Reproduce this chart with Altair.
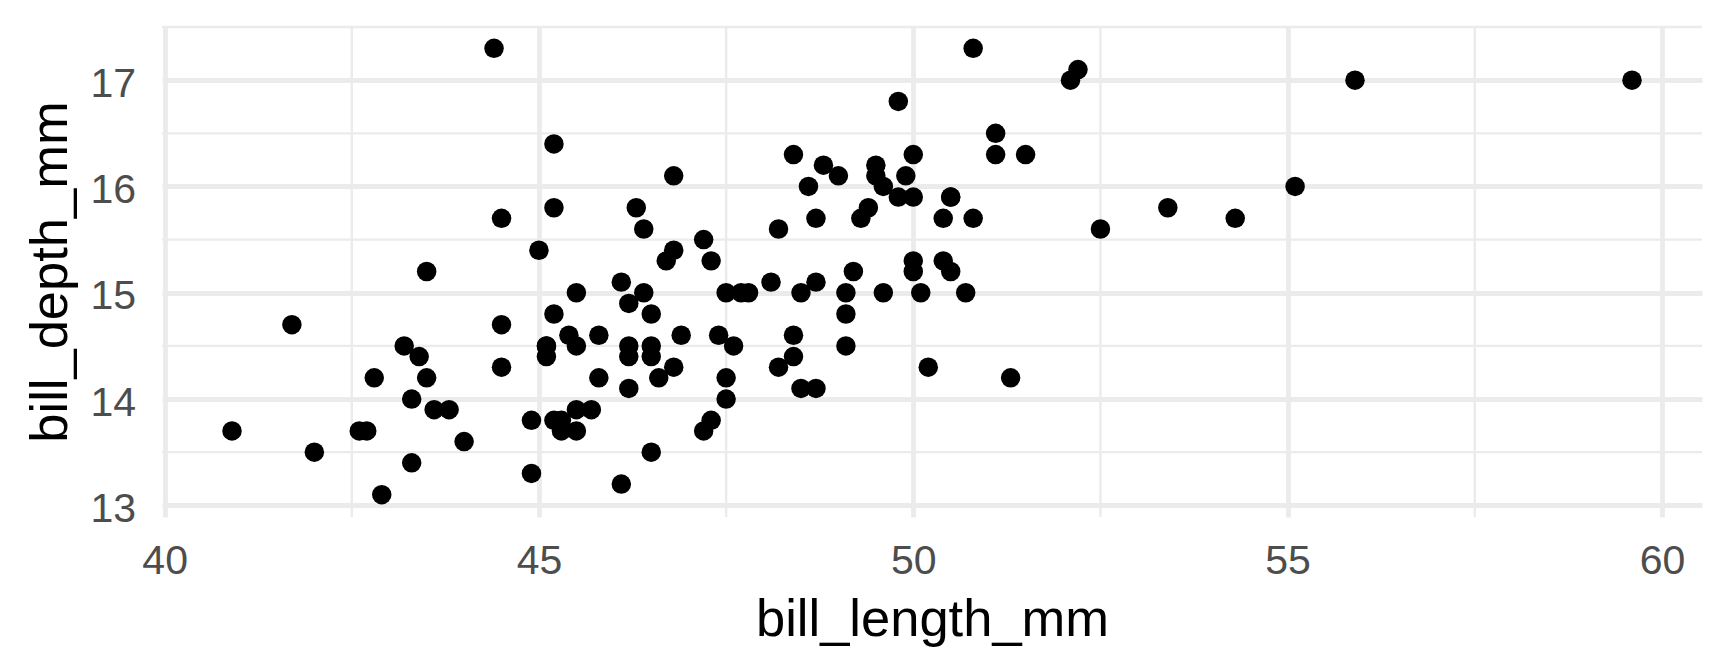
import altair as alt
import pandas as pd

bill_length_mm = [
    46.1, 50.0, 48.7, 50.0, 47.6, 46.5, 45.4, 46.7, 43.3, 46.8, 40.9, 49.0, 45.5, 48.4, 45.8, 49.3,
    42.0, 49.2, 46.2, 48.7, 50.2, 45.1, 46.5, 46.3, 42.9, 46.1, 44.5, 47.8, 48.2, 50.0, 47.3, 42.8,
    45.1, 59.6, 49.1, 48.4, 42.6, 44.4, 44.0, 48.7, 42.7, 49.6, 45.3, 49.6, 50.5, 43.6, 45.5, 50.5,
    44.9, 45.2, 46.6, 48.5, 45.1, 50.1, 46.5, 45.0, 43.8, 45.5, 43.2, 50.4, 45.3, 46.2, 45.7, 54.3,
    45.8, 49.8, 46.2, 49.5, 43.5, 50.7, 47.7, 46.4, 48.2, 46.5, 46.4, 48.6, 47.5, 51.1, 45.2, 45.2,
    49.1, 52.5, 47.4, 50.0, 44.9, 50.8, 43.4, 51.3, 47.5, 52.1, 47.5, 52.2, 45.5, 49.5, 44.5, 50.8,
    49.4, 46.9, 48.4, 51.1, 48.5, 55.9, 47.2, 49.1, 47.3, 46.8, 41.7, 53.4, 43.3, 48.1, 50.5, 49.8,
    43.5, 51.5, 46.2, 55.1, 44.5, 48.8, 47.2, 46.8, 50.4, 45.2, 49.9,
]
bill_depth_mm = [
    13.2, 16.3, 14.1, 15.2, 14.5, 13.5, 14.6, 15.3, 13.4, 15.4, 13.7, 16.1, 13.7, 14.6, 14.6, 15.7,
    13.5, 15.2, 14.5, 15.1, 14.3, 14.5, 14.5, 15.8, 13.1, 15.1, 14.3, 15.0, 14.3, 15.3, 15.3, 14.2,
    14.5, 17.0, 14.8, 16.3, 13.7, 17.3, 13.6, 15.7, 13.7, 16.0, 13.7, 15.0, 15.9, 13.9, 13.9, 15.9,
    13.3, 15.8, 14.2, 14.1, 14.4, 15.0, 14.4, 15.4, 13.9, 15.0, 14.5, 15.3, 13.8, 14.9, 13.9, 15.7,
    14.2, 16.8, 14.4, 16.2, 14.2, 15.0, 15.0, 15.6, 15.6, 14.8, 15.0, 16.0, 14.2, 16.3, 13.8, 16.4,
    14.5, 15.6, 14.6, 15.9, 13.8, 17.3, 14.4, 14.2, 14.0, 17.0, 15.0, 17.1, 14.5, 16.1, 14.7, 15.7,
    15.8, 14.6, 14.4, 16.5, 15.0, 17.0, 15.5, 15.0, 13.8, 16.1, 14.7, 15.8, 14.0, 15.1, 15.2, 15.9,
    15.2, 16.3, 14.1, 16.0, 15.7, 16.2, 13.7, 14.3, 15.7, 14.8, 16.1,
]

x_major = [40, 45, 50, 55, 60]
x_minor = [42.5, 47.5, 52.5, 57.5]
y_major = [13, 14, 15, 16, 17]
y_minor = [13.5, 14.5, 15.5, 16.5, 17.5]

df = pd.DataFrame({"bill_length_mm": bill_length_mm, "bill_depth_mm": bill_depth_mm})
dfx = pd.DataFrame({"bill_length_mm": x_minor})
dfy = pd.DataFrame({"bill_depth_mm": y_minor})

GRID = "#EBEBEB"
FONT = "Liberation Sans"

xscale = alt.Scale(domain=[39.965, 60.535], nice=False, zero=False)
yscale = alt.Scale(domain=[12.89, 17.51], nice=False, zero=False)

x_axis = alt.Axis(
    values=x_major, title="bill_length_mm", grid=True, gridColor=GRID, gridWidth=4.8,
    domain=False, ticks=False, tickSize=0, labelPadding=24, labelFontSize=41,
    labelColor="#4D4D4D", labelFont=FONT, titleFont=FONT, titleFontSize=52.5,
    titleFontWeight="normal", titleColor="black", titleBaseline="alphabetic",
    titleY=118, labelFlush=False, labelOverlap=False,
)
y_axis = alt.Axis(
    values=y_major, title="bill_depth_mm", grid=True, gridColor=GRID, gridWidth=4.8,
    domain=False, ticks=False, tickSize=0, labelPadding=26.5, labelFontSize=41,
    labelColor="#4D4D4D", labelFont=FONT, titleFont=FONT, titleFontSize=52.5,
    titleFontWeight="normal", titleColor="black", titleBaseline="alphabetic",
    titleAngle=270, titleX=-95.7, titleY=245.5, labelBaseline="middle", labelOffset=4,
    labelFlush=False, labelOverlap=False,
)

minor_x = alt.Chart(dfx).mark_rule(color=GRID, strokeWidth=2.4).encode(
    x=alt.X("bill_length_mm:Q", scale=xscale, axis=x_axis)
)
minor_y = alt.Chart(dfy).mark_rule(color=GRID, strokeWidth=2.4).encode(
    y=alt.Y("bill_depth_mm:Q", scale=yscale, axis=y_axis)
)

points = alt.Chart(df).mark_circle(color="black", opacity=1, size=380).encode(
    x=alt.X("bill_length_mm:Q", scale=xscale, axis=x_axis),
    y=alt.Y("bill_depth_mm:Q", scale=yscale, axis=y_axis),
)

chart = alt.layer(minor_x, minor_y, points).properties(
    width=1540,
    height=491,
    autosize=alt.AutoSizeParams(type="none"),
    padding={"left": 154, "top": 18, "right": 10, "bottom": 140},
    background="white",
).configure_view(stroke=None)

chart.save("out.html", embed_options={"renderer": "svg", "actions": False})
